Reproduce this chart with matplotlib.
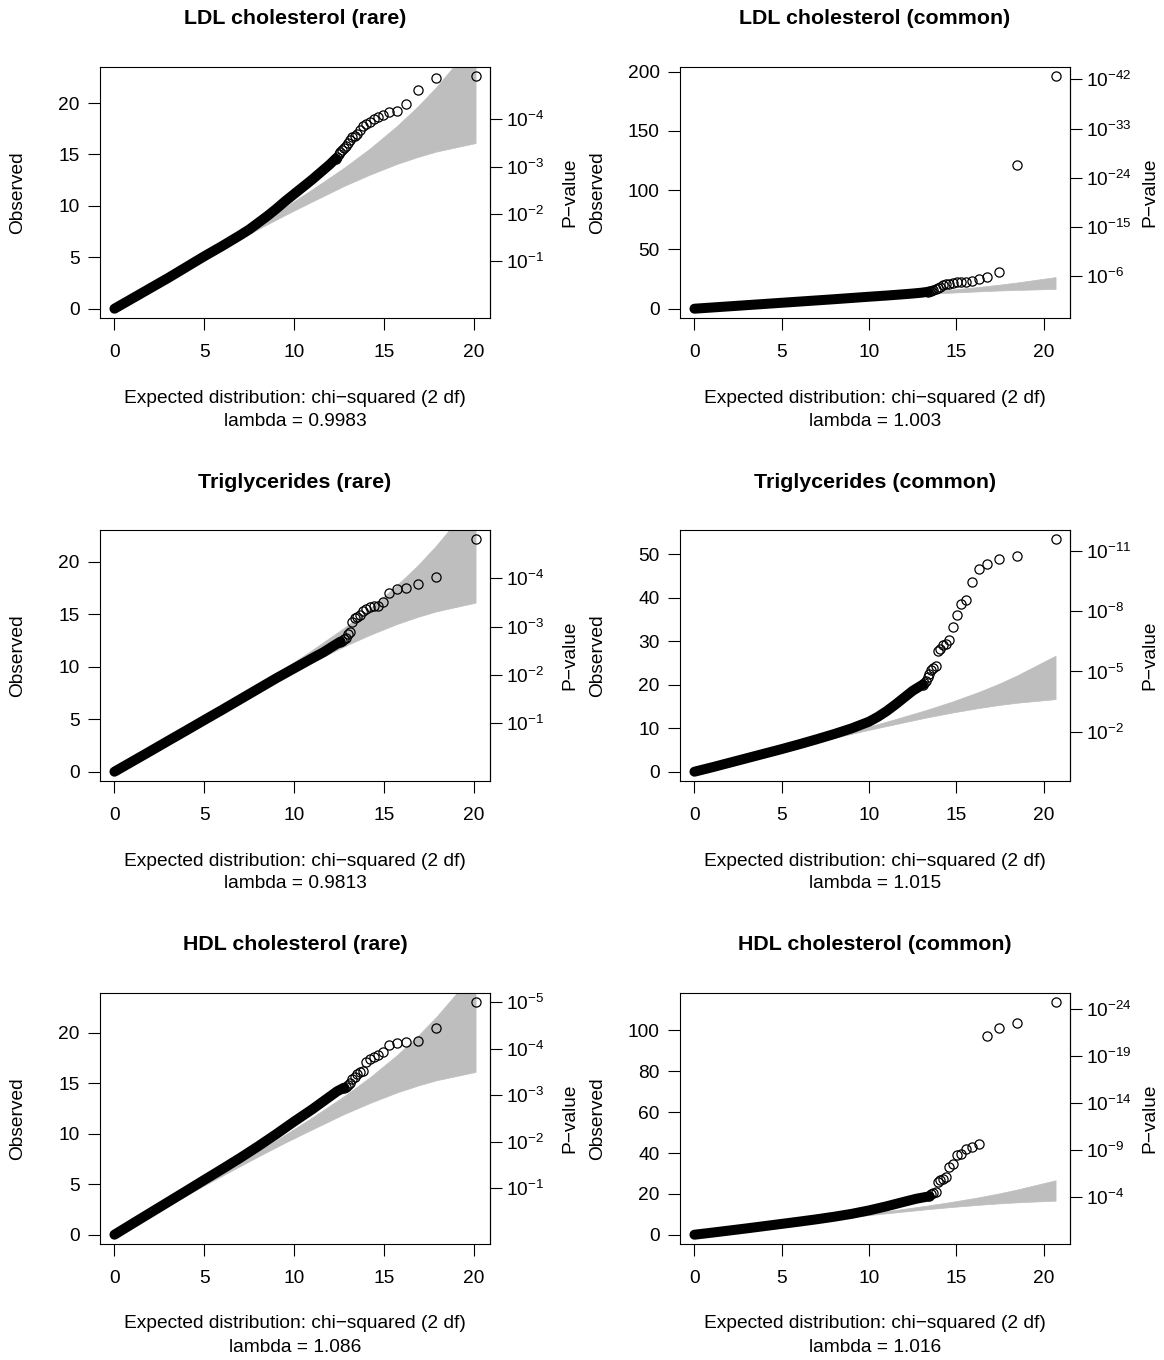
import numpy as np
import matplotlib
matplotlib.use('Agg')
import matplotlib.pyplot as plt

plt.rcParams['font.family'] = ['Liberation Sans', 'DejaVu Sans']
plt.rcParams['mathtext.fontset'] = 'custom'
plt.rcParams['mathtext.rm'] = 'Liberation Sans'
plt.rcParams['mathtext.it'] = 'Liberation Sans:italic'
plt.rcParams['mathtext.bf'] = 'Liberation Sans:bold'

# ---------------- data ----------------
titles = ["LDL cholesterol (rare)", "LDL cholesterol (common)",
          "Triglycerides (rare)", "Triglycerides (common)",
          "HDL cholesterol (rare)", "HDL cholesterol (common)"]
lambdas = ["0.9983", "1.003", "0.9813", "1.015", "1.086", "1.016"]
kinds = ["rare", "common", "rare", "common", "rare", "common"]

# expected chi-squared quantiles of the largest statistics
rare_tail_x = [20.10, 17.91, 16.89, 16.21, 15.71, 15.31, 14.97, 14.69, 14.44, 14.22,
               14.02, 13.84, 13.67, 13.51, 13.37, 13.24, 13.11, 12.99, 12.88, 12.78,
               12.68, 12.58, 12.49, 12.40, 12.32]
common_tail_x = [20.68, 18.48, 17.46, 16.78, 16.28, 15.88, 15.55, 15.26, 15.01, 14.79,
                 14.59, 14.41, 14.24, 14.08, 13.94, 13.81, 13.68, 13.56, 13.45, 13.35,
                 13.25, 13.16, 13.07, 12.98]

# concentration band (2.5% / 97.5%)
rare_band_x = [20.10, 17.91, 16.89, 15.71, 14.22, 12.78, 10.91, 9.52, 8.13, 6.29, 4.90, 3.52, 1.68, 0.0]
rare_band_lo = [16.11, 15.28, 14.76, 14.07, 13.04, 11.94, 10.34, 9.13, 7.86, 6.12, 4.78, 3.43, 1.64, 0.0]
rare_band_hi = [26.07, 21.55, 19.68, 17.75, 15.58, 13.71, 11.49, 9.92, 8.41, 6.47, 5.03, 3.61, 1.72, 0.0]
common_band_x = [20.68, 18.48, 17.46, 16.28, 14.79, 13.35, 11.49, 10.09, 8.70, 6.86, 5.48, 4.09, 2.25, 0.0]
common_band_lo = [16.68, 15.85, 15.34, 14.64, 13.61, 12.51, 10.91, 9.71, 8.43, 6.69, 5.35, 4.00, 2.21, 0.0]
common_band_hi = [26.65, 22.13, 20.25, 18.32, 16.16, 14.28, 12.06, 10.49, 8.98, 7.04, 5.60, 4.18, 2.29, 0.0]

# observed values of the largest statistics (individual circles)
ldl_rare_tail = [22.6, 22.4, 21.3, 19.9, 19.25, 19.1, 18.8, 18.6, 18.4, 18.2, 18.0, 17.75,
                 17.4, 17.0, 16.8, 16.65, 16.4, 16.1, 15.8, 15.6, 15.4, 15.2, 15.0, 14.8, 14.6]
ldl_common_tail = [196, 121, 30.8, 26.5, 25.2, 23.2, 22.9, 22.5, 22.5, 22.0, 21.2, 20.6,
                   19.8, 18.5, 17.7, 16.3, 15.8, 15.0, 14.6, 14.2]
tg_rare_tail = [22.15, 18.59, 17.9, 17.5, 17.45, 17.01, 16.22, 15.82, 15.77, 15.68, 15.48,
                15.33, 14.93, 14.79, 14.64, 14.29, 13.35, 13.15, 12.71, 12.6, 12.5, 12.4]
tg_common_tail = [53.4, 49.5, 48.8, 47.7, 46.5, 43.6, 39.4, 38.6, 36.1, 33.3, 30.2, 29.4,
                  29.0, 28.1, 27.7, 24.4, 23.9, 23.3, 22.4, 21.7, 20.8, 20.4, 20.0]
hdl_rare_tail = [23.0, 20.5, 19.2, 19.06, 19.0, 18.76, 18.1, 17.8, 17.6, 17.4, 17.1, 16.23,
                 16.08, 15.88, 15.58, 15.38, 14.97, 14.8, 14.65, 14.55]
hdl_common_tail = [113.8, 103.9, 101.2, 97.5, 44.2, 43.0, 42.2, 39.75, 38.9, 34.8, 33.2,
                   28.3, 27.5, 27.0, 25.8, 20.9, 20.4, 19.75, 18.8]

# dense bulk of the points (expected, observed)
ldl_rare_bulk_x = [0, 1, 2, 3, 4, 5, 6, 7, 7.5, 8, 8.5, 9, 9.5, 10, 10.5, 11, 11.5, 12, 12.32]
ldl_rare_bulk_y = [0, 1.0, 2.0, 3.0, 4.05, 5.1, 6.1, 7.15, 7.7, 8.35, 9.0, 9.7, 10.45, 11.15,
                   11.85, 12.55, 13.3, 14.05, 14.6]
ldl_common_bulk_x = [0, 2, 4, 6, 8, 10, 11, 12, 12.5, 13.0, 13.35]
ldl_common_bulk_y = [0, 2.0, 4.0, 6.0, 8.0, 10.1, 11.1, 12.2, 12.8, 13.5, 14.2]
tg_rare_bulk_x = [0, 1, 2, 3, 4, 5, 6, 7, 8, 9, 10, 11, 11.65, 12.2, 12.58]
tg_rare_bulk_y = [0, 0.98, 1.96, 2.95, 3.93, 4.92, 5.9, 6.9, 7.9, 8.9, 9.85, 10.8, 11.4,
                  12.0, 12.4]
tg_common_bulk_x = [0, 1, 2, 3, 4, 5, 6, 7, 8, 9, 10, 10.5, 11, 11.5, 12, 12.5, 13.07]
tg_common_bulk_y = [0, 1.0, 2.05, 3.1, 4.15, 5.2, 6.3, 7.45, 8.65, 9.95, 11.5, 12.6, 13.9,
                    15.4, 17.0, 18.6, 20.0]
hdl_rare_bulk_x = [0, 1, 2, 3, 4, 5, 6, 7, 8, 9, 10, 11, 11.7, 12.4, 12.78]
hdl_rare_bulk_y = [0, 1.09, 2.17, 3.25, 4.33, 5.42, 6.5, 7.6, 8.75, 9.95, 11.2, 12.4, 13.3,
                   14.2, 14.55]
hdl_common_bulk_x = [0, 1, 2, 3, 4, 5, 6, 7, 8, 9, 10, 11, 12, 12.7, 13.45]
hdl_common_bulk_y = [0, 1.0, 2.05, 3.1, 4.2, 5.3, 6.4, 7.55, 8.8, 10.2, 11.9, 13.9, 16.1,
                     17.6, 18.8]

tails = [ldl_rare_tail, ldl_common_tail, tg_rare_tail, tg_common_tail, hdl_rare_tail, hdl_common_tail]
bulks_x = [ldl_rare_bulk_x, ldl_common_bulk_x, tg_rare_bulk_x, tg_common_bulk_x,
           hdl_rare_bulk_x, hdl_common_bulk_x]
bulks_y = [ldl_rare_bulk_y, ldl_common_bulk_y, tg_rare_bulk_y, tg_common_bulk_y,
           hdl_rare_bulk_y, hdl_common_bulk_y]

x_ticks = [0, 5, 10, 15, 20]
y_ticks = [[0, 5, 10, 15, 20], [0, 50, 100, 150, 200], [0, 5, 10, 15, 20],
           [0, 10, 20, 30, 40, 50], [0, 5, 10, 15, 20], [0, 20, 40, 60, 80, 100]]
p_exponents = [[1, 2, 3, 4], [6, 15, 24, 33, 42], [1, 2, 3, 4],
               [2, 5, 8, 11], [1, 2, 3, 4, 5], [4, 9, 14, 19, 24]]

# ---------------- layout ----------------
W, H = 1164, 1360
fig = plt.figure(figsize=(W / 100, H / 100), dpi=100)
col_left = [100, 680]
row_top = [67, 530, 993]
box_w, box_h = 390, 251
FS = 13.8
TFS = 15.4
GREY = '#BEBEBE'
LN10x2 = 2 * np.log(10)

for k in range(6):
    r, c = divmod(k, 2)
    L, T = col_left[c], row_top[r]
    ax = fig.add_axes([L / W, 1 - (T + box_h) / H, box_w / W, box_h / H])
    if kinds[k] == 'rare':
        tx, bx, blo, bhi = rare_tail_x, rare_band_x, rare_band_lo, rare_band_hi
    else:
        tx, bx, blo, bhi = common_tail_x, common_band_x, common_band_lo, common_band_hi
    ty = tails[k]
    xmax = tx[0]
    ymax = max(ty)
    ax.set_xlim(-0.04 * xmax, 1.04 * xmax)
    ax.set_ylim(-0.04 * ymax, 1.04 * ymax)

    ax.fill_between(bx, blo, bhi, color=GREY, edgecolor=GREY, linewidth=0.5, zorder=1)
    ax.plot(bulks_x[k], bulks_y[k], color='black', lw=7.2, solid_capstyle='round',
            solid_joinstyle='round', zorder=2)
    ax.plot(tx[:len(ty)], ty, linestyle='none', marker='o', ms=6.6, mfc='none',
            mec='black', mew=0.9, zorder=3)

    for s in ax.spines.values():
        s.set_linewidth(0.8)
    ax.set_xticks(x_ticks)
    ax.set_yticks(y_ticks[k])
    ax.set_xticklabels([str(v) for v in x_ticks])
    ax.set_yticklabels([str(v) for v in y_ticks[k]])
    ax.tick_params(axis='both', direction='out', length=8.6, width=0.8, labelsize=FS)
    ax.tick_params(axis='x', pad=10)
    ax.tick_params(axis='y', pad=6)

    sec = ax.secondary_yaxis('right', functions=(lambda y: y / LN10x2, lambda v: v * LN10x2))
    sec.set_yticks(p_exponents[k])
    sec.set_yticklabels([r'$10^{-%d}$' % e for e in p_exponents[k]])
    sec.tick_params(direction='out', length=8.6, width=0.8, labelsize=FS, pad=3)
    sec.spines['right'].set_linewidth(0.8)

    cx = (L + box_w / 2) / W
    fig.text(cx, 1 - (T - 48) / H, titles[k], ha='center', va='center',
             fontsize=TFS, fontweight='bold')
    fig.text(cx, 1 - (T + 331) / H, "Expected distribution: chi\u2212squared (2 df)",
             ha='center', va='center', fontsize=FS)
    fig.text(cx, 1 - (T + 354) / H, "lambda = " + lambdas[k],
             ha='center', va='center', fontsize=FS)
    fig.text((L - 82) / W, 1 - (T + box_h / 2) / H, "Observed", rotation=90,
             ha='center', va='center', fontsize=FS)
    fig.text((L + box_w + 80) / W, 1 - (T + box_h / 2) / H, "P\u2212value", rotation=90,
             ha='center', va='center', fontsize=FS)

fig.savefig('out.png', dpi=100)
